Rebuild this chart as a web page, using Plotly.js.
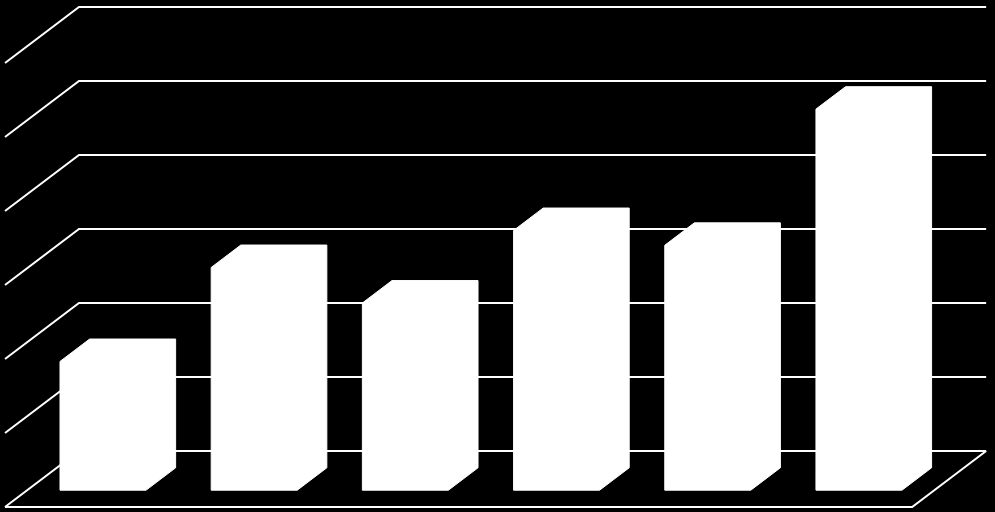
<!DOCTYPE html>
<html>
<head>
<meta charset="utf-8">
<script src="https://cdn.plot.ly/plotly-3.0.1.min.js"></script>
<style>html,body{margin:0;padding:0;background:#000;}#chart{width:995px;height:512px;}</style>
</head>
<body>
<div id="chart"></div>
<script>
// ---- data ----
var categories = ["1", "2", "3", "4", "5", "6"];
var values = [17.4, 30.1, 25.3, 35.1, 33.1, 51.5];
var gridValues = [0, 10, 20, 30, 40, 50, 60];

// ---- oblique 3D projection (front plane -> back plane) ----
var DEPTH_X = 0.4894;   // shift in category units for full depth
var DEPTH_Y = 7.568;    // shift in value units for full depth
var BAR_FRONT = 0.3, BAR_BACK = 0.7;   // bar depth extent (fraction)
var BAR_OFFSET = 0.217, BAR_WIDTH = 0.569;
function P(x, y, d) { return [x + d * DEPTH_X, y + d * DEPTH_Y]; }

var traces = [];
var nCat = categories.length;

// walls and floor gridlines
var gx = [], gy = [];
gridValues.forEach(function (v) {
  var a = P(0, v, 0), b = P(0, v, 1), c = P(nCat, v, 1);
  gx.push(a[0], b[0], c[0], null);
  gy.push(a[1], b[1], c[1], null);
});
// floor front and right edges
var f1 = P(0, 0, 0), f2 = P(nCat, 0, 0), f3 = P(nCat, 0, 1);
gx.push(f1[0], f2[0], f3[0], null);
gy.push(f1[1], f2[1], f3[1], null);
traces.push({type: 'scatter', mode: 'lines', x: gx, y: gy,
  line: {color: '#ffffff', width: 2}, hoverinfo: 'skip'});

// bars as 3D silhouettes
values.forEach(function (v, i) {
  var xl = i + BAR_OFFSET, xr = xl + BAR_WIDTH;
  var pts = [P(xl, 0, BAR_FRONT), P(xr, 0, BAR_FRONT), P(xr, 0, BAR_BACK),
             P(xr, v, BAR_BACK), P(xl, v, BAR_BACK), P(xl, v, BAR_FRONT), P(xl, 0, BAR_FRONT)];
  traces.push({type: 'scatter', mode: 'lines', fill: 'toself',
    x: pts.map(function (p) { return p[0]; }),
    y: pts.map(function (p) { return p[1]; }),
    fillcolor: '#ffffff', line: {color: '#ffffff', width: 1},
    name: categories[i], hoverinfo: 'skip'});
});

var layout = {
  width: 995, height: 512,
  margin: {l: 0, r: 0, t: 0, b: 0, pad: 0},
  paper_bgcolor: '#000000', plot_bgcolor: '#000000',
  showlegend: false, hovermode: false,
  xaxis: {range: [-0.0331, 6.548], visible: false, fixedrange: true},
  yaxis: {range: [-0.676, 68.51], visible: false, fixedrange: true}
};
Plotly.newPlot('chart', traces, layout, {staticPlot: true, displayModeBar: false});
</script>
</body>
</html>
